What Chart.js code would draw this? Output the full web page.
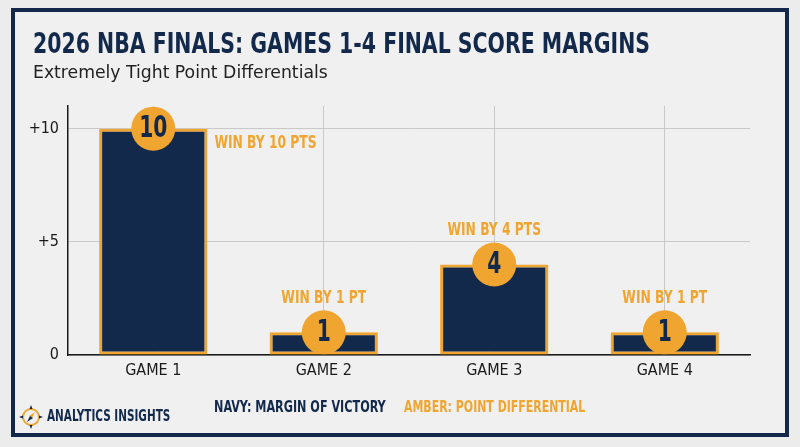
<!DOCTYPE html>
<html>
<head>
<meta charset="utf-8">
<script src="https://cdn.jsdelivr.net/npm/chart.js@4.4.1/dist/chart.umd.min.js"></script>
<style>
  html, body { margin: 0; padding: 0; background: #ececec; }
  #wrap { position: relative; width: 800px; height: 447px; overflow: hidden;
    font-family: "DejaVu Sans Condensed", "Liberation Sans Narrow", sans-serif; }
  #frame { position: absolute; left: 11px; top: 8px; width: 770px; height: 421px;
    border: 4px solid #13294b; background: #f0f0f0; }
  #chart { position: absolute; left: 0; top: 0; }
  .txt { position: absolute; white-space: nowrap; transform-origin: 0 0; }
  #title { left: 33px; top: 26px; font-size: 29px; font-weight: bold; color: #13294b; }
  #subtitle { left: 33px; top: 61px; font-size: 18px; color: #222; }
  #brand { left: 47px; top: 407px; font-size: 15px; font-weight: bold; color: #13294b; }
  #legNavy { left: 214px; top: 397px; font-size: 16px; font-weight: bold; color: #13294b; }
  #legAmber { left: 404px; top: 397px; font-size: 16px; font-weight: bold; color: #efa52f; }
  #logo { position: absolute; left: 19px; top: 404px; }
</style>
</head>
<body>
<div id="wrap">
  <div id="frame"></div>
  <canvas id="chart" width="800" height="447"></canvas>
  <div class="txt" id="title" data-w="617">2026 NBA FINALS: GAMES 1-4 FINAL SCORE MARGINS</div>
  <div class="txt" id="subtitle" data-w="295">Extremely Tight Point Differentials</div>
  <svg id="logo" width="24" height="26" viewBox="0 0 24 26">
    <circle cx="12" cy="13" r="8" fill="none" stroke="#efa52f" stroke-width="2"/>
    <path d="M12 1 L13.5 5 L10.5 5 Z M12 25 L13.5 21 L10.5 21 Z M0 13 L4 11.5 L4 14.5 Z M24 13 L20 11.5 L20 14.5 Z" fill="#13294b"/>
    <path d="M16 8 L13 14 L10 12 Z" fill="#efa52f"/>
    <path d="M8 18 L11 12 L14 14 Z" fill="#13294b"/>
  </svg>
  <div class="txt" id="brand" data-w="123">ANALYTICS INSIGHTS</div>
  <div class="txt" id="legNavy" data-w="172">NAVY: MARGIN OF VICTORY</div>
  <div class="txt" id="legAmber" data-w="181">AMBER: POINT DIFFERENTIAL</div>
</div>
<script>
const games = ["GAME 1", "GAME 2", "GAME 3", "GAME 4"];
const margins = [10, 1, 4, 1];
const winLabels = ["WIN BY 10 PTS", "WIN BY 1 PT", "WIN BY 4 PTS", "WIN BY 1 PT"];
const yTicks = [0, 5, 10];

const NAVY = "#13294b";
const AMBER = "#efa52f";
const FONT = "'DejaVu Sans Condensed', 'Liberation Sans Narrow', sans-serif";

// squeeze the html texts to the widths of the reference
document.querySelectorAll(".txt[data-w]").forEach((el) => {
  const w = parseFloat(el.dataset.w);
  el.style.transform = "scaleX(" + (w / el.offsetWidth) + ")";
});

Chart.defaults.font.family = FONT;
Chart.defaults.color = "#1a1a1a";

function narrowText(ctx, text, x, y, align, sx) {
  ctx.save();
  ctx.translate(x, y);
  ctx.scale(sx, 1);
  ctx.textAlign = align;
  ctx.fillText(text, 0, 0);
  ctx.restore();
}

// circles with the margin and the "win by" notes
const badgePlugin = {
  id: "badges",
  afterDatasetsDraw(chart) {
    const ctx = chart.ctx;
    const meta = chart.getDatasetMeta(0);
    const area = chart.chartArea;
    meta.data.forEach((bar, i) => {
      const r = 22;
      ctx.save();
      ctx.beginPath();
      ctx.arc(bar.x, bar.y, r, 0, Math.PI * 2);
      ctx.fillStyle = AMBER;
      ctx.fill();
      ctx.fillStyle = NAVY;
      ctx.font = "bold 30px " + FONT;
      ctx.textBaseline = "middle";
      narrowText(ctx, String(margins[i]), bar.x, bar.y + 1, "center", 0.75);

      ctx.fillStyle = AMBER;
      ctx.font = "bold 18px " + FONT;
      if (bar.y - r - 30 < area.top) {
        // no room above, put it beside the bar
        narrowText(ctx, winLabels[i], bar.x + bar.width / 2 + 7, bar.y + 15, "left", 0.76);
      } else {
        narrowText(ctx, winLabels[i], bar.x, bar.y - 34, "center", 0.76);
      }
      ctx.restore();
    });
  }
};

const ctx = document.getElementById("chart").getContext("2d");
new Chart(ctx, {
  type: "bar",
  data: {
    labels: games,
    datasets: [{
      label: "Margin",
      data: margins,
      backgroundColor: NAVY,
      borderColor: AMBER,
      borderWidth: 3,
      borderSkipped: false,
      categoryPercentage: 1,
      barPercentage: 0.635
    }]
  },
  options: {
    responsive: false,
    animation: false,
    layout: { padding: { left: 0, right: 50, top: 106, bottom: 67 } },
    plugins: {
      legend: { display: false },
      tooltip: { enabled: false }
    },
    scales: {
      x: {
        afterFit: (s) => { s.height = 25; },
        grid: { offset: false, color: "#c9c9c9", lineWidth: 1, drawTicks: false },
        border: { color: "#1a1a1a", width: 1.5 },
        ticks: { padding: 6, font: { size: 16 }, color: "#1a1a1a" }
      },
      y: {
        min: 0,
        max: 11,
        afterFit: (s) => { s.width = 68; },
        afterBuildTicks: (s) => { s.ticks = yTicks.map((v) => ({ value: v })); },
        grid: { color: "#c9c9c9", lineWidth: 1, drawTicks: false },
        border: { color: "#1a1a1a", width: 1.5 },
        ticks: {
          padding: 9,
          font: { size: 16 },
          color: "#1a1a1a",
          callback: (v) => (v > 0 ? "+" + v : "0")
        }
      }
    }
  },
  plugins: [badgePlugin]
});
</script>
</body>
</html>
